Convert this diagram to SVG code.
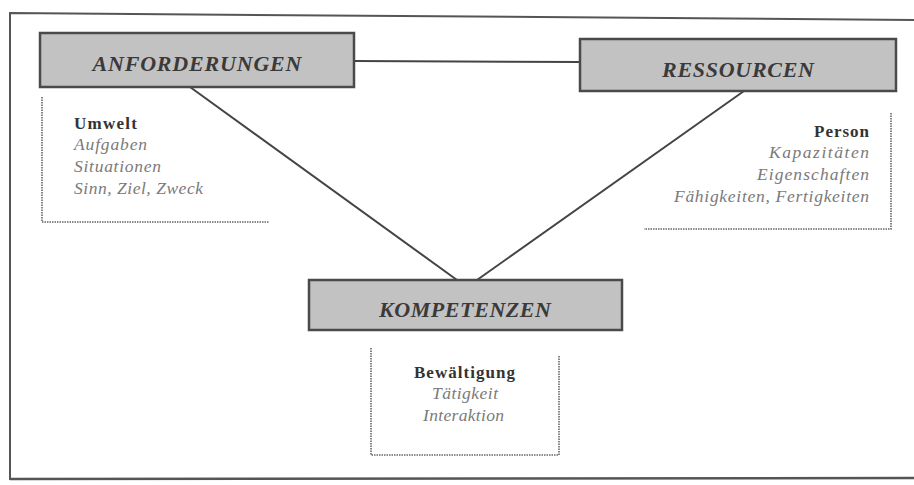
<svg xmlns="http://www.w3.org/2000/svg" width="914" height="485" viewBox="0 0 914 485">
<style>
.box{fill:#c2c2c2;stroke:#4a4a4a;stroke-width:2.5}
.title{font-family:"Liberation Serif",serif;font-weight:bold;font-style:italic;font-size:22px;fill:#3a3a3a;text-anchor:middle}
.head{font-family:"Liberation Serif",serif;font-weight:bold;font-size:17px;fill:#333}
.item{font-family:"Liberation Serif",serif;font-style:italic;font-size:17.5px;fill:#7a7a7a}
.dot{fill:none;stroke:#666;stroke-width:1.6;stroke-dasharray:1.5 1}
.conn{stroke:#444;stroke-width:2;fill:none}
</style>
<rect x="0" y="0" width="914" height="485" fill="#fff"/>
<path d="M10,480 L10,13 L914,20" fill="none" stroke="#555" stroke-width="2"/>
<line x1="10" y1="479" x2="914" y2="478" stroke="#555" stroke-width="2.5"/>
<g id="connectors">
<line class="conn" x1="354" y1="61" x2="580" y2="62"/>
<line class="conn" x1="190" y1="87" x2="457" y2="280"/>
<line class="conn" x1="744" y1="91" x2="477" y2="280"/>
</g>
<g id="anforderungen">
<rect class="box" x="40" y="33" width="314" height="54"/>
<text class="title" x="197" y="71" textLength="209" lengthAdjust="spacing">ANFORDERUNGEN</text>
</g>
<g id="ressourcen">
<rect class="box" x="580" y="39" width="316" height="52"/>
<text class="title" x="738" y="77" textLength="152" lengthAdjust="spacing">RESSOURCEN</text>
</g>
<g id="kompetenzen">
<rect class="box" x="309" y="280" width="313" height="50"/>
<text class="title" x="465" y="317" textLength="172" lengthAdjust="spacing">KOMPETENZEN</text>
</g>
<g id="umwelt">
<path class="dot" d="M42,97 L42,222 L269,222"/>
<text class="head" x="74" y="129" textLength="63" lengthAdjust="spacing">Umwelt</text>
<text class="item" x="74" y="150" textLength="73" lengthAdjust="spacing">Aufgaben</text>
<text class="item" x="74" y="172" textLength="87" lengthAdjust="spacing">Situationen</text>
<text class="item" x="74" y="194" textLength="129" lengthAdjust="spacing">Sinn, Ziel, Zweck</text>
</g>
<g id="person">
<path class="dot" d="M891,113 L891,229 L644,229"/>
<text class="head" x="814" y="137" textLength="55" lengthAdjust="spacing">Person</text>
<text class="item" x="769" y="158" textLength="100" lengthAdjust="spacing">Kapazitäten</text>
<text class="item" x="757" y="180" textLength="112" lengthAdjust="spacing">Eigenschaften</text>
<text class="item" x="674" y="202" textLength="195" lengthAdjust="spacing">Fähigkeiten, Fertigkeiten</text>
</g>
<g id="bewaeltigung">
<path class="dot" d="M371,348 L371,455 L559,455 L559,355"/>
<text class="head" x="414" y="378" textLength="101" lengthAdjust="spacing">Bewältigung</text>
<text class="item" x="432" y="399" textLength="66" lengthAdjust="spacing">Tätigkeit</text>
<text class="item" x="423" y="421" textLength="81" lengthAdjust="spacing">Interaktion</text>
</g>
</svg>
